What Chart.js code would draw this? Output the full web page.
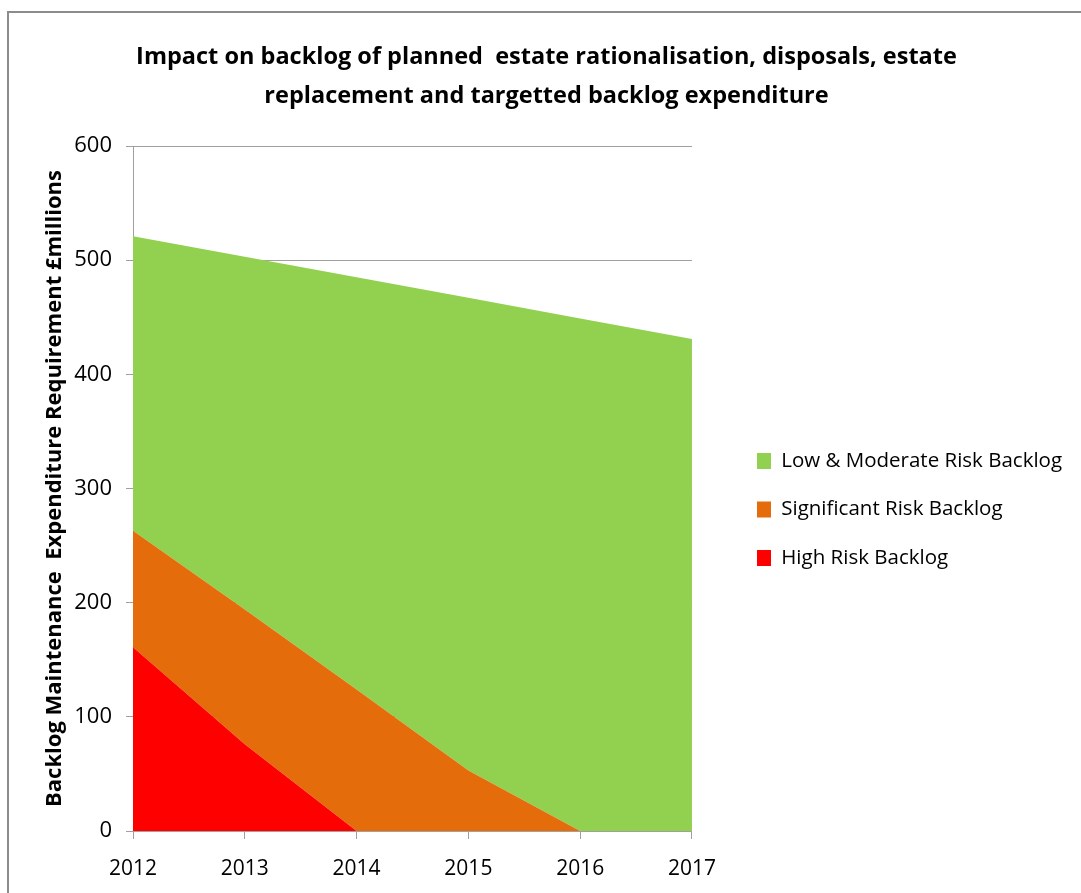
<!DOCTYPE html>
<html>
<head>
<meta charset="utf-8">
<script src="https://cdn.jsdelivr.net/npm/chart.js@4/dist/chart.umd.min.js"></script>
<style>
  html, body { margin: 0; padding: 0; background: #fff; overflow: hidden; }
  #wrap { position: relative; width: 1081px; height: 893px; }
  #frame { position: absolute; left: 7px; top: 11px; width: 1200px; height: 1000px; border: 2px solid #8c8c8c; box-sizing: border-box; }
  canvas { position: absolute; left: 0; top: 0; }
</style>
</head>
<body>
<div id="wrap">
  <div id="frame"></div>
  <canvas id="backlogChart" width="1081" height="893"></canvas>
</div>
<script>
const years = ['2012', '2013', '2014', '2015', '2016', '2017'];
const highRisk = [161, 76, 0, 0, 0, 0];
const significantRisk = [102, 118, 124, 53, 0, 0];
const lowModerateRisk = [258, 309, 361, 414, 449, 431];
const seriesNames = ['High Risk Backlog', 'Significant Risk Backlog', 'Low & Moderate Risk Backlog'];
const seriesColours = ['#ff0000', '#e46c0a', '#92d050'];

const FONT = "'Open Sans', sans-serif";

// move the legend block clear of the plot, nudge the title right
const blockShift = {
  id: 'blockShift',
  afterLayout(chart) {
    const lg = chart.legend;
    const dx = 757 - (lg.left + lg.options.labels.padding);
    lg.left += dx; lg.right += dx;
    lg.top += 57; lg.bottom += 57;
    const tb = chart.titleBlock;
    tb.left += 19; tb.right += 19;
  }
};

function area(label, data, colour, fill) {
  return {
    label: label,
    data: data,
    backgroundColor: colour,
    borderColor: colour,
    borderWidth: 0,
    pointRadius: 0,
    pointHoverRadius: 0,
    tension: 0,
    fill: fill
  };
}

new Chart('backlogChart', {
  type: 'line',
  data: {
    labels: years,
    datasets: [
      area(seriesNames[0], highRisk, seriesColours[0], 'origin'),
      area(seriesNames[1], significantRisk, seriesColours[1], '-1'),
      area(seriesNames[2], lowModerateRisk, seriesColours[2], '-1')
    ]
  },
  options: {
    responsive: false,
    animation: false,
    layout: { padding: { left: 20, right: 46, top: 12, bottom: 0 } },
    plugins: {
      title: {
        display: true,
        text: ['Impact on backlog of planned  estate rationalisation, disposals, estate',
               'replacement and targetted backlog expenditure'],
        color: '#000',
        font: { family: FONT, size: 23.5, weight: 'bold', lineHeight: '39px' },
        padding: { top: 25.5, bottom: 30.5 }
      },
      legend: {
        position: 'right',
        reverse: true,
        maxWidth: 400,
        labels: {
          color: '#000',
          font: { family: FONT, size: 20.5 },
          boxWidth: 14,
          boxHeight: 16,
          padding: 28
        }
      },
      tooltip: { enabled: false }
    },
    scales: {
      x: {
        offset: false,
        grid: { drawOnChartArea: false, color: '#a0a0a0', tickLength: 8 },
        border: { color: '#a0a0a0' },
        ticks: { color: '#000', font: { family: FONT, size: 21 }, padding: 17, maxRotation: 0 },
        afterFit(scale) { scale.height = 62; }
      },
      y: {
        stacked: true,
        min: 0,
        max: 600,
        grid: { color: '#a0a0a0', tickLength: 7 },
        border: { color: '#a0a0a0' },
        ticks: { stepSize: 100, color: '#000', font: { family: FONT, size: 22 }, padding: 14 },
        title: {
          display: true,
          text: 'Backlog Maintenance  Expenditure Requirement £millions',
          color: '#000',
          font: { family: FONT, size: 22, weight: 'bold' },
          padding: { top: 22, bottom: 0 }
        },
        afterFit(scale) { scale.width = 113; }
      }
    }
  },
  plugins: [blockShift]
});
</script>
</body>
</html>
